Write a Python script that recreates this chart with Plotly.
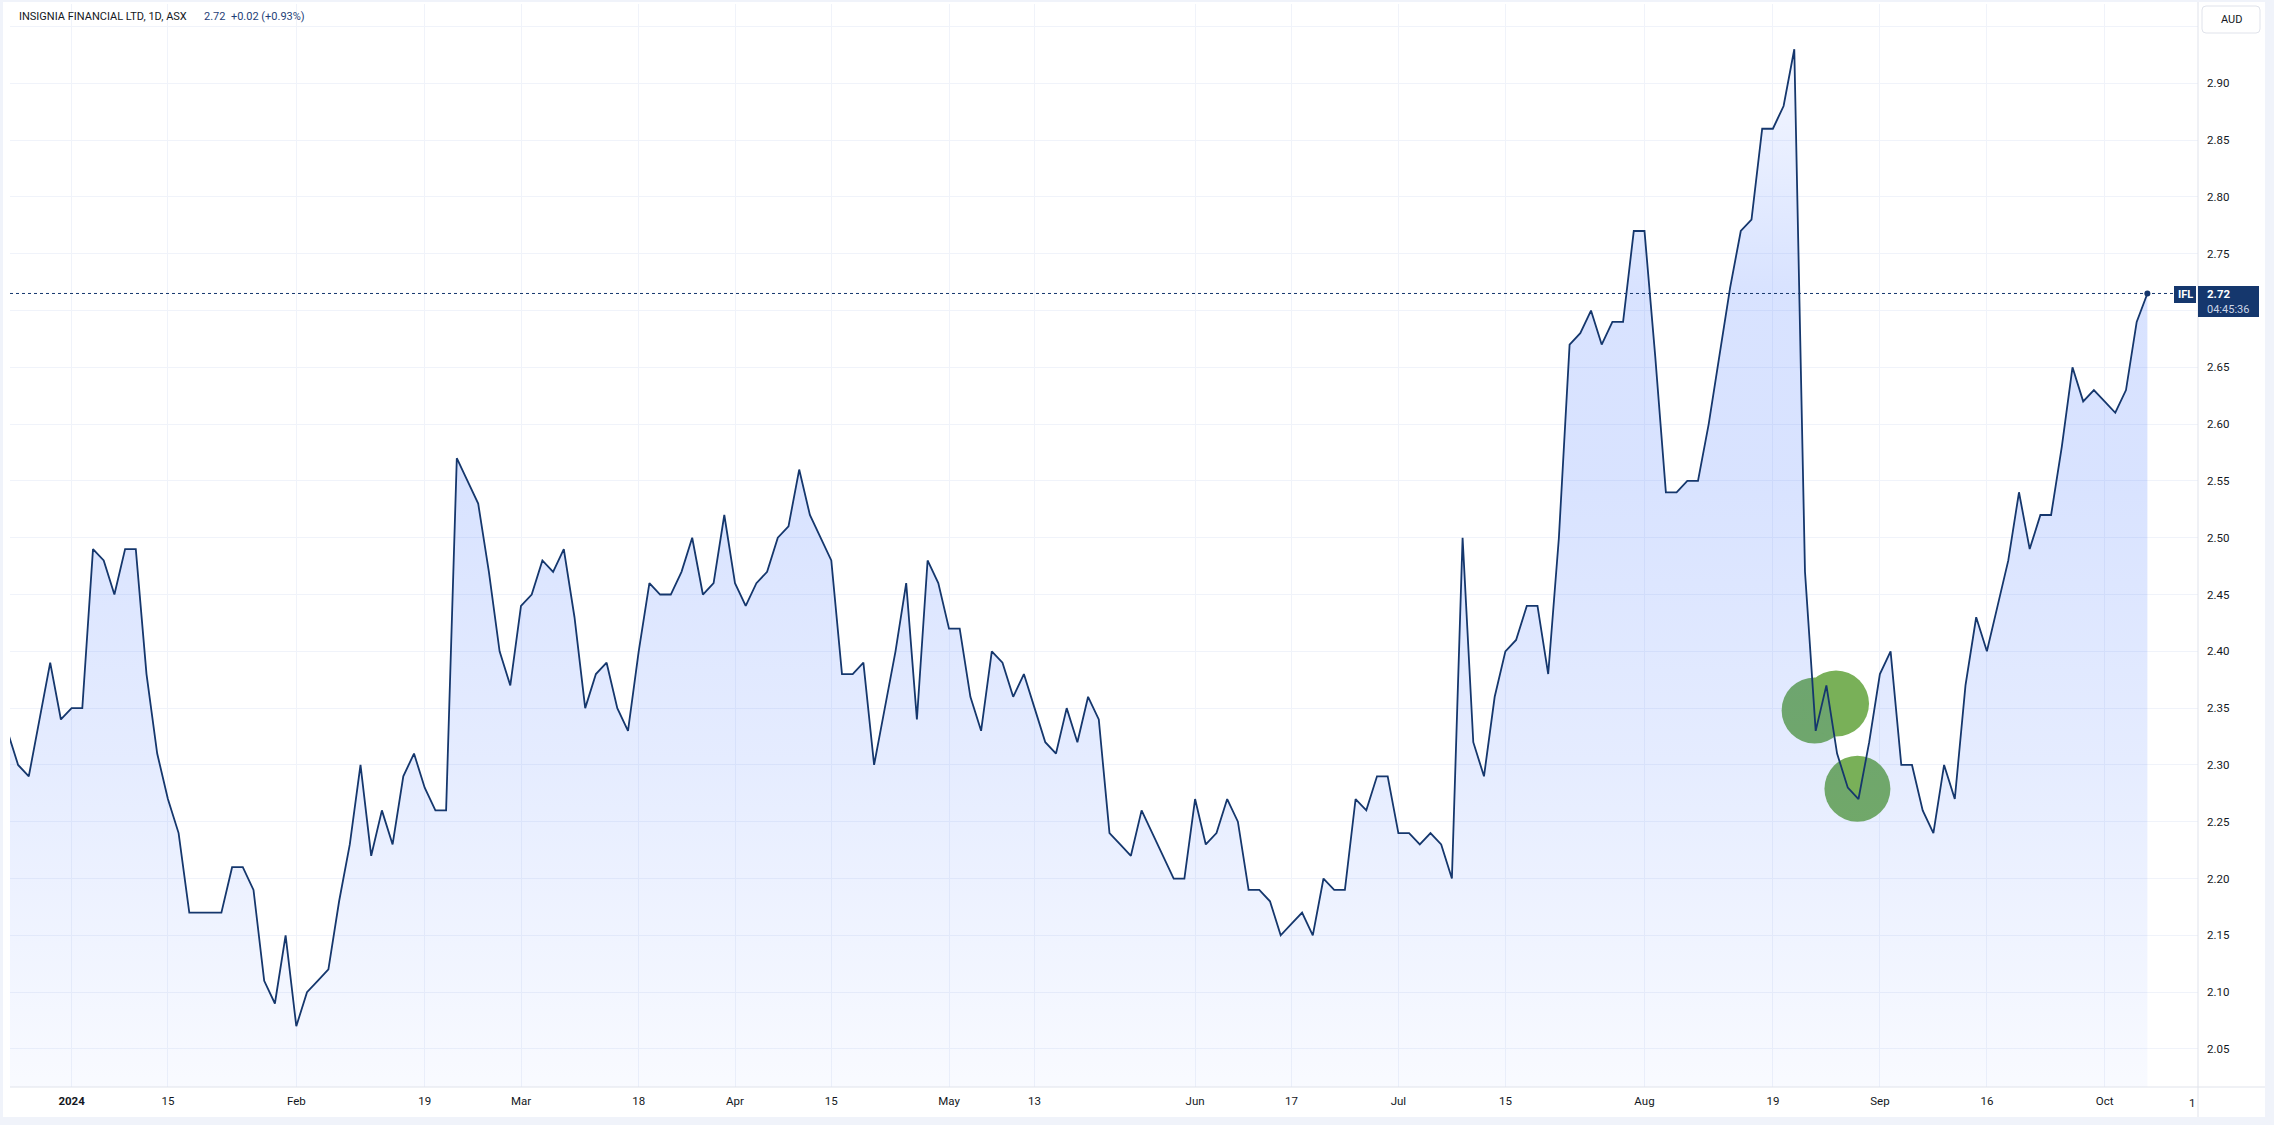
import plotly.graph_objects as go
import pandas as pd

# ---------------- data ----------------
holidays = ["2023-12-25", "2023-12-26", "2024-01-01", "2024-01-26",
            "2024-03-29", "2024-04-01", "2024-04-25", "2024-06-10"]
dates = [d for d in pd.bdate_range("2023-12-20", "2024-10-07")
         if d.strftime("%Y-%m-%d") not in holidays]

close = [
    2.33, 2.30, 2.29, 2.34, 2.39, 2.34,
    2.35, 2.35, 2.49, 2.48, 2.45, 2.49, 2.49, 2.38, 2.31, 2.27,
    2.24, 2.17, 2.17, 2.17, 2.17, 2.21, 2.21, 2.19, 2.11, 2.09,
    2.15, 2.07, 2.10, 2.11, 2.12, 2.18, 2.23, 2.30, 2.22, 2.26,
    2.23, 2.29, 2.31, 2.28, 2.26, 2.26, 2.57, 2.55, 2.53, 2.47,
    2.40, 2.37, 2.44, 2.45, 2.48, 2.47, 2.49, 2.43, 2.35, 2.38,
    2.39, 2.35, 2.33, 2.40, 2.46, 2.45, 2.45, 2.47, 2.50, 2.45,
    2.46, 2.52, 2.46, 2.44, 2.46, 2.47, 2.50, 2.51, 2.56, 2.52,
    2.50, 2.48, 2.38, 2.38, 2.39, 2.30, 2.35, 2.40, 2.46, 2.34,
    2.48, 2.46, 2.42, 2.42, 2.36, 2.33, 2.40, 2.39, 2.36, 2.38,
    2.35, 2.32, 2.31, 2.35, 2.32, 2.36, 2.34, 2.24, 2.23, 2.22,
    2.26, 2.24, 2.22, 2.20, 2.20, 2.27, 2.23, 2.24, 2.27, 2.25,
    2.19, 2.19, 2.18, 2.15, 2.16, 2.17, 2.15, 2.20, 2.19, 2.19,
    2.27, 2.26, 2.29, 2.29, 2.24, 2.24, 2.23, 2.24, 2.23, 2.20,
    2.50, 2.32, 2.29, 2.36, 2.40, 2.41, 2.44, 2.44, 2.38, 2.50,
    2.67, 2.68, 2.70, 2.67, 2.69, 2.69, 2.77, 2.77, 2.66, 2.54,
    2.54, 2.55, 2.55, 2.60, 2.66, 2.72, 2.77, 2.78, 2.86, 2.86,
    2.88, 2.93, 2.47, 2.33, 2.37, 2.31, 2.28, 2.27, 2.32, 2.38,
    2.40, 2.30, 2.30, 2.26, 2.24, 2.30, 2.27, 2.37, 2.43, 2.40,
    2.44, 2.48, 2.54, 2.49, 2.52, 2.52, 2.58, 2.65, 2.62, 2.63,
    2.62, 2.61, 2.63, 2.69, 2.715,
]

tick_dates = ["2024-01-02", "2024-01-15", "2024-02-01", "2024-02-19", "2024-03-01",
              "2024-03-18", "2024-04-02", "2024-04-15", "2024-05-01", "2024-05-13",
              "2024-06-03", "2024-06-17", "2024-07-01", "2024-07-15", "2024-08-01",
              "2024-08-19", "2024-09-02", "2024-09-16", "2024-10-01"]
tick_labels = ["<b>2024</b>", "15", "Feb", "19", "Mar", "18", "Apr", "15", "May", "13",
               "Jun", "17", "Jul", "15", "Aug", "19", "Sep", "16", "Oct"]

y_ticks = [2.05, 2.10, 2.15, 2.20, 2.25, 2.30, 2.35, 2.40, 2.45, 2.50,
           2.55, 2.60, 2.65, 2.70, 2.75, 2.80, 2.85, 2.90, 2.95]
y_labels = ["2.05", "2.10", "2.15", "2.20", "2.25", "2.30", "2.35", "2.40", "2.45", "2.50",
            "2.55", "2.60", "2.65", "", "2.75", "2.80", "2.85", "2.90", ""]

# highlight circles (trading-day index from 2 Jan 2024, price)
circle_x = [162.9, 164.9, 166.9]
circle_y = [2.348, 2.354, 2.279]

last_price = 2.715
title_text = "INSIGNIA FINANCIAL LTD, 1D, ASX"
quote_text = "2.72  +0.02 (+0.93%)"

# ---------------- geometry / style ----------------
W, H = 2274, 1125
L, R, T, B = 10, 2198, 4, 1087      # plot area in pixels
NAVY = "#15376d"
GRID = "#f0f3fa"
BORDER = "#e0e3eb"
TXT = "#131722"
FONT = "Roboto"

base = dates.index(pd.Timestamp("2024-01-02"))
x = [k - base for k in range(len(dates))]
tickvals = [dates.index(pd.Timestamp(d)) - base for d in tick_dates]


def px(xp):
    return (xp - L) / (R - L)


def py(yp):
    return (B - yp) / (B - T)


fig = go.Figure()

# circles below the fill
fig.add_trace(go.Scatter(
    x=circle_x, y=circle_y, mode="markers",
    marker=dict(size=66, color="#79b058", line=dict(width=0)),
    hoverinfo="skip", showlegend=False))

# area with gradient fill
fig.add_trace(go.Scatter(
    x=x, y=close, mode="lines",
    line=dict(color=NAVY, width=1.8),
    fill="tozeroy",
    fillgradient=dict(
        type="vertical", start=2.0165, stop=2.93,
        colorscale=[[0.0, "rgba(41,98,255,0.03)"],
                    [0.31, "rgba(41,98,255,0.12)"],
                    [0.58, "rgba(41,98,255,0.18)"],
                    [0.77, "rgba(41,98,255,0.18)"],
                    [0.91, "rgba(41,98,255,0.10)"],
                    [1.0, "rgba(41,98,255,0.05)"]]),
    hoverinfo="skip", showlegend=False))

# last point dot
fig.add_trace(go.Scatter(
    x=[x[-1]], y=[close[-1]], mode="markers",
    marker=dict(size=6, color=NAVY), hoverinfo="skip", showlegend=False))

shapes = []
# outer page frame (grey strips)
for (a, b, c, d) in [(0, 0, W, 2), (0, 0, 3, H), (2265, 0, W, H), (0, 1117, W, H)]:
    shapes.append(dict(type="rect", xref="paper", yref="paper",
                       x0=px(a), x1=px(c), y0=py(d), y1=py(b),
                       fillcolor=GRID, line=dict(width=0), layer="above"))
# price-scale separator and time axis line
shapes.append(dict(type="line", xref="paper", yref="paper",
                   x0=px(R), x1=px(R), y0=py(1117), y1=py(2),
                   line=dict(color=BORDER, width=1), layer="above"))
shapes.append(dict(type="line", xref="paper", yref="paper",
                   x0=px(L), x1=px(2265), y0=0, y1=0,
                   line=dict(color=BORDER, width=1), layer="above"))
# last price dotted line
shapes.append(dict(type="line", xref="paper", yref="y",
                   x0=0, x1=px(2174), y0=last_price, y1=last_price,
                   line=dict(color=NAVY, width=1, dash="dot"), layer="above"))
# IFL tag and price box
shapes.append(dict(type="rect", xref="paper", yref="paper",
                   x0=px(2174), x1=px(2196), y0=py(303), y1=py(286),
                   fillcolor=NAVY, line=dict(width=0), layer="above"))
shapes.append(dict(type="rect", xref="paper", yref="paper",
                   x0=px(2198), x1=px(2259), y0=py(317), y1=py(286),
                   fillcolor=NAVY, line=dict(width=0), layer="above"))


def rounded(x0, y0, x1, y1, r):
    pts = (f"M{px(x0 + r)},{py(y0)} L{px(x1 - r)},{py(y0)} "
           f"Q{px(x1)},{py(y0)} {px(x1)},{py(y0 + r)} L{px(x1)},{py(y1 - r)} "
           f"Q{px(x1)},{py(y1)} {px(x1 - r)},{py(y1)} L{px(x0 + r)},{py(y1)} "
           f"Q{px(x0)},{py(y1)} {px(x0)},{py(y1 - r)} L{px(x0)},{py(y0 + r)} "
           f"Q{px(x0)},{py(y0)} {px(x0 + r)},{py(y0)} Z")
    return pts


shapes.append(dict(type="path", xref="paper", yref="paper",
                   path=rounded(2202, 6, 2260, 33, 4),
                   fillcolor="white", line=dict(color=BORDER, width=1), layer="above"))


def ann(text, xp, yp, size, color, xanchor="left", family=FONT):
    return dict(text=text, xref="paper", yref="paper", x=px(xp), y=py(yp),
                xanchor=xanchor, yanchor="middle", showarrow=False,
                font=dict(family=family, size=size, color=color))


annotations = [
    ann(title_text, 17, 16, 11, TXT),
    ann(quote_text, 202, 16, 11, "#1f3f78"),
    ann("AUD", 2231, 19.5, 11, TXT, xanchor="center"),
    ann("<b>IFL</b>", 2185, 294.5, 11, "white", xanchor="center"),
    ann("<b>2.72</b>", 2205, 294, 11.5, "white"),
    ann("04:45:36", 2205, 309, 11, "#cdd6e6"),
    ann("1", 2197, 1103, 11.5, TXT, xanchor="right"),
]

fig.update_layout(
    width=W, height=H,
    margin=dict(l=L, r=W - R, t=T, b=H - B, pad=0),
    paper_bgcolor="white", plot_bgcolor="white",
    showlegend=False, hovermode=False,
    shapes=shapes, annotations=annotations,
    font=dict(family=FONT, size=11.5, color=TXT),
)
fig.update_xaxes(
    range=[-5.757, 198.73], tickmode="array", tickvals=tickvals, ticktext=tick_labels,
    showgrid=True, gridcolor=GRID, gridwidth=1, zeroline=False, showline=False,
    ticks="", ticklabelstandoff=5, tickfont=dict(family=FONT, size=11.5, color=TXT),
    fixedrange=True)
fig.update_yaxes(
    range=[2.0165, 2.9698], side="right", tickmode="array", tickvals=y_ticks,
    ticktext=y_labels, showgrid=True, gridcolor=GRID, gridwidth=1, zeroline=False,
    showline=False, ticks="", ticklabelstandoff=8,
    tickfont=dict(family=FONT, size=11.5, color=TXT), fixedrange=True)

fig.write_html("out.html",
               config={"displayModeBar": False, "staticPlot": True},
               post_script="document.body.style.margin='0px';"
                           "document.body.style.overflow='hidden';")
